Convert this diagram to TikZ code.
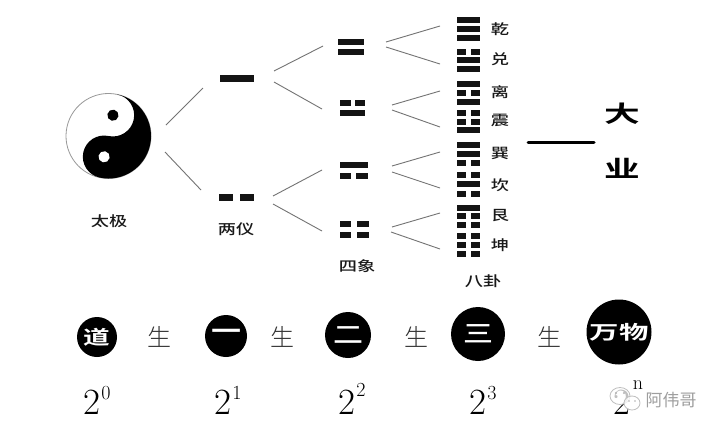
\documentclass[tikz,border=0pt]{standalone}
\usepackage{fontspec}
\usepackage{graphicx}
\newfontfamily\cjk{Noto Sans CJK SC}
\newfontfamily\cjkm{Noto Sans CJK SC Medium}
\newfontfamily\cjkb{Noto Sans CJK SC Bold}
\newfontfamily\cjkl{Noto Sans CJK SC Light}
\newcommand{\wide}[1]{\scalebox{1.3}[1]{#1}}
\newcommand{\yang}[4]{\fill[barcol] (#1,#2-#4) rectangle (#3,#2+#4);}
\newcommand{\yin}[6]{\fill[barcol] (#1,#5-#6) rectangle (#2,#5+#6); \fill[barcol] (#3,#5-#6) rectangle (#4,#5+#6);}
% hexagram-column line: y, 1 solid or 0 broken
\newcommand{\hexline}[2]{\ifnum#2=1 \yang{457}{#1}{480}{2.9}\else \yin{457}{466}{471}{480}{#1}{2.7}\fi}
\begin{document}
\begin{tikzpicture}[x=1pt,y=-1pt,
  barcol/.style={black!92},
  link/.style={draw=black!55,line width=0.9pt},
  lbl/.style={font=\cjkm\fontsize{14}{14}\selectfont,text=black!90,inner sep=0pt},
  ball/.style={circle,fill=black,inner sep=0pt,text=white},
  sheng/.style={font=\cjkl\fontsize{24}{24}\selectfont,text=black!80,inner sep=0pt},
  base/.style={font=\fontsize{37}{37}\selectfont,inner sep=0pt,text=black},
  expo/.style={font=\fontsize{20}{20}\selectfont,inner sep=0pt,text=black},
  bigword/.style={font=\cjkb\fontsize{23}{23}\selectfont,inner sep=0pt},
  wmline/.style={draw=black!25,line width=0.8pt,fill=white,fill opacity=0.75}]
\useasboundingbox (0,0) rectangle (720,432);
\fill[white] (0,0) rectangle (720,432);

% taiji
\begin{scope}[shift={(108.5,136)},rotate=-12,x=1pt,y=1pt]
  \draw[black!40,line width=0.8pt,fill=white] (0,0) circle[radius=42.5];
  \fill[black] (0,42.5) arc[start angle=90,end angle=-90,radius=42.5]
     arc[start angle=-90,end angle=-270,radius=21.25]
     arc[start angle=-90,end angle=90,radius=21.25] -- cycle;
  \fill[black] (0,21.25) circle[radius=5.6];
  \fill[white] (0,-21.25) circle[radius=5.6];
\end{scope}
\node[lbl] (taiji) at (109,221) {\wide{太极}};

% two modes
\yang{220}{78.5}{254}{3.5}
\yin{219}{233}{240}{254}{197.5}{3.8}
\node[lbl] (liangyi) at (236,229) {\wide{两仪}};

% four images
\yang{338}{42}{364}{3} \yang{338}{52}{364}{3}
\yin{340}{350.5}{355}{365}{103}{2.9} \yang{340}{113}{365}{3}
\yang{340}{165}{368}{2.8} \yin{340}{351}{356}{368}{176}{3.2}
\yin{340}{351}{357}{369}{224}{3.2} \yin{340}{351}{357}{369}{235}{3.2}
\node[lbl] (sixiang) at (357,266) {\wide{四象}};

% eight trigrams
\hexline{20}{1}\hexline{29}{1}\hexline{38}{1}
\hexline{52}{0}\hexline{60}{1}\hexline{69}{1}
\hexline{84}{1}\hexline{93}{0}\hexline{102}{1}
\hexline{113}{0}\hexline{122}{0}\hexline{130}{1}
\hexline{145}{1}\hexline{154}{1}\hexline{163}{0}
\hexline{175}{0}\hexline{184}{1}\hexline{194}{0}
\hexline{208}{1}\hexline{216}{0}\hexline{225}{0}
\hexline{236}{0}\hexline{245}{0}\hexline{254}{0}
\node[lbl] (qian) at (500,29) {\wide{乾}};
\node[lbl] (dui) at (500,59) {\wide{兑}};
\node[lbl] (li) at (500,92) {\wide{离}};
\node[lbl] (zhen) at (500,120) {\wide{震}};
\node[lbl] (xun) at (500,153) {\wide{巽}};
\node[lbl] (kan) at (500,185) {\wide{坎}};
\node[lbl] (gen) at (500,216) {\wide{艮}};
\node[lbl] (kun) at (500,245) {\wide{坤}};
\node[lbl] (bagua) at (483,281) {\wide{八卦}};

% connector ends
\foreach \n/\p in {a1/{166,125},a2/{203,88},b1/{165,152},b2/{201,190},
  c1/{274,71},c2/{323,46},d1/{274,82},d2/{322,109},
  e1/{273,196},e2/{322,170},f1/{273,204},f2/{322,231},
  g1/{386,42},g2/{440,26},h1/{386,47},h2/{440,64},
  i1/{392,105},i2/{440,91},j1/{392,110},j2/{440,127},
  k1/{392,166},k2/{440,152},l1/{392,172},l2/{440,188},
  m1/{392,227},m2/{440,213},n1/{391,232},n2/{440,249},
  o1/{528,142},o2/{594,142}}
  {\coordinate (\n) at (\p);}
\foreach \s in {a,b,c,d,e,f,g,h,i,j,k,l,m,n}
  \draw[link] (\s1) -- (\s2);
\draw[black,line width=3pt,line cap=round] (o1) -- (o2);

\node[bigword] (da) at (622,113.5) {\scalebox{1.55}[1]{大}};
\node[bigword] (ye) at (622,168.5) {\scalebox{1.55}[1]{业}};

% bottom row
\node[ball,minimum size=40pt,font=\cjkb\fontsize{19}{19}\selectfont] (dao) at (97,337) {\scalebox{1.4}[1]{道}};
\node[ball,minimum size=42pt,font=\cjkm\fontsize{30}{30}\selectfont] (yi) at (226,336) {一};
\node[ball,minimum size=46pt,font=\cjkm\fontsize{30}{30}\selectfont] (er) at (348,335) {\scalebox{1}[0.8]{二}};
\node[ball,minimum size=54pt,font=\cjkm\fontsize{30}{30}\selectfont] (san) at (478,334) {\scalebox{1}[0.8]{三}};
\node[ball,minimum size=65pt,font=\cjkb\fontsize{19}{19}\selectfont] (wanwu) at (619,332) {\scalebox{1.55}[1]{万物}};
\node[sheng] (sa) at (159,337) {生};
\node[sheng] (sb) at (282,337) {生};
\node[sheng] (sc) at (416,337) {生};
\node[sheng] (sd) at (549,337) {生};

\node[base] (p0) at (92,402) {2};
\node[expo] (x0) at (106,393) {0};
\node[base] (p1) at (223,402) {2};
\node[expo] (x1) at (237,393) {1};
\node[base] (p2) at (347,402) {2};
\node[expo] (x2) at (361,390) {2};
\node[base] (p3) at (478,402) {2};
\node[expo] (x3) at (492,393) {3};
\node[base] (pn) at (622,402) {2};
\node[expo] (xn) at (638,385) {n};

% watermark
\draw[wmline] (620,396) ellipse[x radius=10,y radius=8.5];
\draw[wmline] (632,403) ellipse[x radius=8,y radius=7];
\fill[black!30] (616,393) circle[radius=1.1] (624,393) circle[radius=1.1] (629,401) circle[radius=0.9] (635,401) circle[radius=0.9];
\node[font=\cjk\fontsize{17}{17}\selectfont,text=black!38,inner sep=0pt] (wm) at (671,400) {阿伟哥};
\end{tikzpicture}
\end{document}
